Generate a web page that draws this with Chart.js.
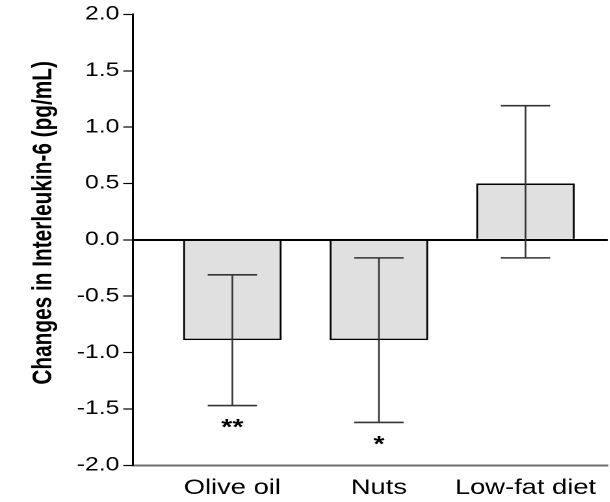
<!DOCTYPE html>
<html>
<head>
<meta charset="utf-8">
<script src="https://cdn.jsdelivr.net/npm/chart.js@4.4.0/dist/chart.umd.min.js"></script>
<style>
  html, body { margin: 0; padding: 0; background: #fff; overflow: hidden; }
  /* the figure is drawn narrow and widened, so text and strokes get the wide look */
  #wrap { width: 469px; height: 502px; transform: scaleX(1.3); transform-origin: 0 0; }
</style>
</head>
<body>
<div id="wrap"><canvas id="il6Chart" width="469" height="502"></canvas></div>
<script>
// IL-6 change per diet group, mean with error range
const groups = ['Olive oil', 'Nuts', 'Low-fat diet'];
const meanChange = [-0.89, -0.89, 0.50];
const errLow = [-1.47, -1.62, -0.16];
const errHigh = [-0.31, -0.16, 1.19];
const significance = ['**', '*', ''];
const yTicks = [-2.0, -1.5, -1.0, -0.5, 0.0, 0.5, 1.0, 1.5, 2.0];
const yTitle = 'Changes in Interleukin-6 (pg/mL)';

const FONT = "'Liberation Sans', Arial, Helvetica, sans-serif";
Chart.defaults.font.family = FONT;
Chart.defaults.color = '#000';

// whiskers with caps, plus the significance stars under them
const errorBars = {
    id: 'errorBars',
    afterDatasetsDraw(chart) {
        const ctx = chart.ctx;
        const y = chart.scales.y;
        const meta = chart.getDatasetMeta(0);
        ctx.save();
        meta.data.forEach((bar, i) => {
            const top = y.getPixelForValue(errHigh[i]);
            const bottom = y.getPixelForValue(errLow[i]);
            const half = bar.width * 0.25;
            ctx.strokeStyle = '#333';
            ctx.lineWidth = 1.3;
            ctx.beginPath();
            ctx.moveTo(bar.x, top);
            ctx.lineTo(bar.x, bottom);
            ctx.stroke();
            ctx.lineWidth = 1.6;
            ctx.beginPath();
            ctx.moveTo(bar.x - half, top);
            ctx.lineTo(bar.x + half, top);
            ctx.moveTo(bar.x - half, bottom);
            ctx.lineTo(bar.x + half, bottom);
            ctx.stroke();
            if (significance[i]) {
                ctx.fillStyle = '#000';
                ctx.font = 'bold 22px ' + FONT;
                ctx.textAlign = 'center';
                ctx.textBaseline = 'top';
                ctx.fillText(significance[i], bar.x, bottom + 12);
            }
        });
        ctx.restore();
    }
};

// rotated y title, sitting a little above the middle of the axis
const sideTitle = {
    id: 'sideTitle',
    afterDraw(chart) {
        const ctx = chart.ctx;
        const area = chart.chartArea;
        ctx.save();
        ctx.translate(34, (area.top + area.bottom) / 2 - 17);
        ctx.rotate(-Math.PI / 2);
        ctx.font = 'bold 20.8px ' + FONT;
        ctx.fillStyle = '#000';
        ctx.textAlign = 'center';
        ctx.textBaseline = 'middle';
        ctx.fillText(yTitle, 0, 0);
        ctx.restore();
    }
};

new Chart(document.getElementById('il6Chart'), {
    type: 'bar',
    data: {
        datasets: [{
            data: groups.map((g, i) => ({ x: i + 1, y: meanChange[i] })),
            backgroundColor: '#e0e0e0',
            borderColor: '#000',
            borderWidth: 1.6,
            borderSkipped: 'start',
            categoryPercentage: 1,
            barPercentage: 0.673
        }]
    },
    options: {
        responsive: false,
        devicePixelRatio: 2,
        animation: false,
        layout: { padding: { top: 14, right: 0, bottom: 0, left: 0 } },
        plugins: { legend: { display: false }, tooltip: { enabled: false } },
        scales: {
            x: {
                type: 'linear',
                offset: false,
                min: 0.322,
                max: 3.561,
                afterBuildTicks: scale => {
                    scale.ticks = groups.map((g, i) => ({ value: i + 1 }));
                },
                afterFit: scale => { scale.height = 36.7; },
                grid: { display: false, drawTicks: false },
                border: { display: true, color: '#6e6e6e', width: 2 },
                ticks: {
                    font: { size: 21 },
                    color: '#000',
                    padding: 10.5,
                    maxRotation: 0,
                    autoSkip: false,
                    callback: v => groups[v - 1]
                }
            },
            y: {
                min: -2,
                max: 2,
                afterFit: scale => { scale.width = 102.3; },
                afterBuildTicks: scale => {
                    scale.ticks = yTicks.map(v => ({ value: v }));
                },
                grid: {
                    color: c => (c.tick && c.tick.value === 0 ? '#000' : 'rgba(0,0,0,0)'),
                    lineWidth: c => (c.tick && c.tick.value === 0 ? 2 : 1),
                    tickColor: '#000',
                    tickWidth: 1.2,
                    tickLength: 7.5
                },
                border: { display: true, color: '#000', width: 1.5 },
                ticks: {
                    font: { size: 19 },
                    color: '#000',
                    padding: 3,
                    callback: v => v.toFixed(1)
                }
            }
        }
    },
    plugins: [errorBars, sideTitle]
});
</script>
</body>
</html>
